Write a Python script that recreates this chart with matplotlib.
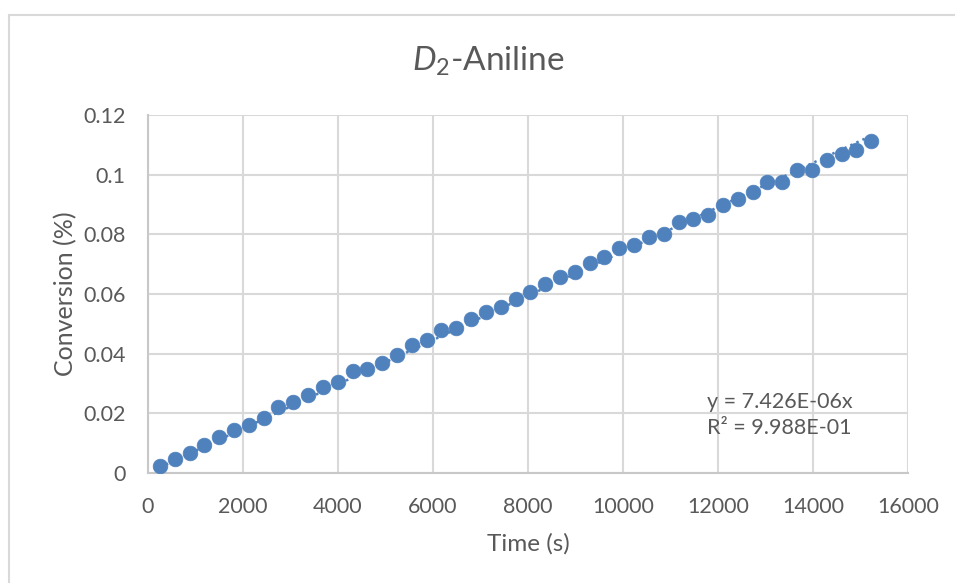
import matplotlib
matplotlib.use("Agg")
import matplotlib.pyplot as plt
from matplotlib.patches import Rectangle
import numpy as np

plt.rcParams['font.family'] = ['Lato', 'DejaVu Sans']
plt.rcParams['mathtext.fontset'] = 'custom'
plt.rcParams['mathtext.rm'] = 'Lato'
plt.rcParams['mathtext.it'] = 'Lato:italic'

# time (s) and conversion (%)
time_s = [250, 562, 874, 1186, 1498, 1810, 2122, 2434, 2746, 3058,
          3370, 3682, 3994, 4306, 4618, 4930, 5242, 5554, 5866, 6178,
          6490, 6802, 7114, 7426, 7738, 8050, 8362, 8674, 8986, 9298,
          9610, 9922, 10234, 10546, 10858, 11170, 11482, 11794, 12106, 12418,
          12730, 13042, 13354, 13666, 13978, 14290, 14602, 14914, 15226]
conversion = [0.0025, 0.0046, 0.0066, 0.0094, 0.0121, 0.0144, 0.0160, 0.0185, 0.0222, 0.0237,
              0.0261, 0.0287, 0.0305, 0.0341, 0.0350, 0.0368, 0.0395, 0.0429, 0.0445, 0.0481,
              0.0485, 0.0515, 0.0541, 0.0557, 0.0582, 0.0608, 0.0632, 0.0656, 0.0675, 0.0705,
              0.0723, 0.0753, 0.0764, 0.0792, 0.0800, 0.0843, 0.0850, 0.0865, 0.0898, 0.0918,
              0.0942, 0.0977, 0.0977, 0.1016, 0.1016, 0.1050, 0.1068, 0.1084, 0.1113]
slope = 7.426e-06
r2 = 9.988e-01

x_ticks = [0, 2000, 4000, 6000, 8000, 10000, 12000, 14000, 16000]
y_ticks = [0, 0.02, 0.04, 0.06, 0.08, 0.1, 0.12]
y_ticklabels = ['0', '0.02', '0.04', '0.06', '0.08', '0.1', '0.12']

text_col = '#595959'
grid_col = '#D9D9D9'
blue = '#4F81BD'

W, H = 955, 583
fig = plt.figure(figsize=(W / 100, H / 100), dpi=100)
ax = fig.add_axes([148 / W, 1 - 473 / H, 760 / W, 358 / H])

# chart frame
fig.patches.append(Rectangle((9 / W, -0.1), 1.2, 1.1 - 15 / H, transform=fig.transFigure,
                             fill=False, edgecolor=grid_col, lw=1.5, zorder=0))

ax.set_xlim(0, 16000)
ax.set_ylim(0, 0.12)
ax.set_xticks(x_ticks)
ax.set_xticklabels([str(t) for t in x_ticks])
ax.set_yticks(y_ticks)
ax.set_yticklabels(y_ticklabels)
ax.grid(True, color=grid_col, lw=1.5)
ax.set_axisbelow(True)
for side in ['top', 'right']:
    ax.spines[side].set_visible(False)
for side in ['left', 'bottom']:
    ax.spines[side].set_color('#C8C8C8')
    ax.spines[side].set_linewidth(1.5)
ax.tick_params(length=0, labelsize=15.5, labelcolor=text_col)
ax.tick_params(axis='x', pad=17)
ax.tick_params(axis='y', pad=16)

# linear fit through the origin
xs = np.array([min(time_s), max(time_s)])
ax.plot(xs, slope * xs, ls=':', color=blue, lw=1.8, zorder=2)
ax.scatter(time_s, conversion, s=112, color=blue, edgecolors=blue, linewidths=0.5, zorder=3)

fig.text(707 / W, 1 - 402 / H, 'y = %.3E' % slope + 'x', fontsize=15.5, color=text_col,
         va='center', ha='left')
fig.text(707 / W, 1 - 428 / H, 'R² = %.3E' % r2, fontsize=15.5, color=text_col,
         va='center', ha='left')

ax.set_xlabel('Time (s)', fontsize=17.5, color=text_col, labelpad=12)
ax.set_ylabel('Conversion (%)', fontsize=18, color=text_col, labelpad=4)
fig.text(488 / W, 1 - 61 / H, r'$\mathit{D}_2$-Aniline', fontsize=24, color=text_col,
         ha='center', va='center')

fig.savefig('out.png', dpi=100)
